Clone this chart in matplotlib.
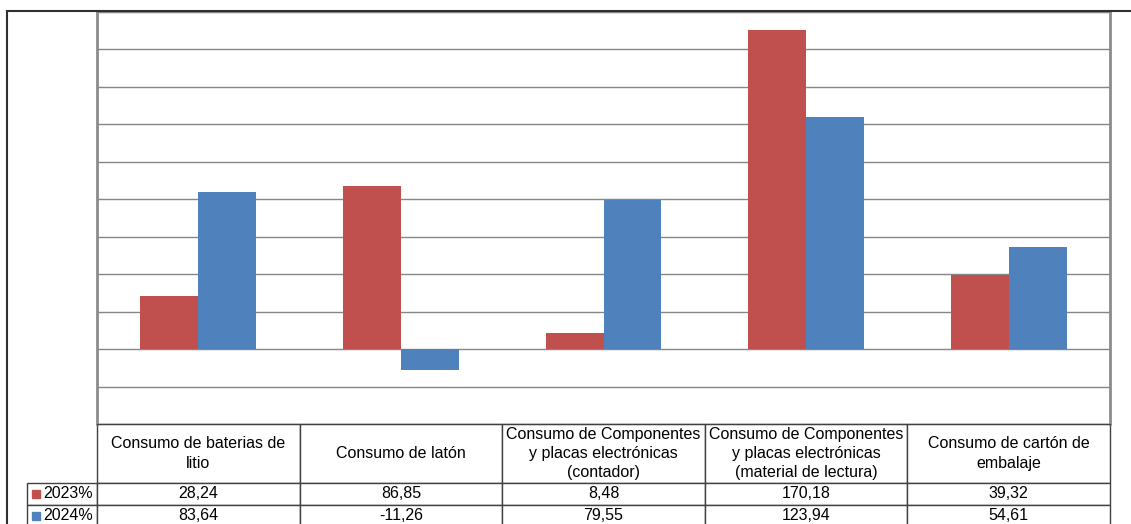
import numpy as np
import matplotlib.pyplot as plt
from matplotlib.patches import Rectangle

plt.rcParams['font.family'] = ['Liberation Sans', 'DejaVu Sans']

categories = ['Consumo de baterias de\nlitio',
              'Consumo de latón',
              'Consumo de Componentes\ny placas electrónicas\n(contador)',
              'Consumo de Componentes\ny placas electrónicas\n(material de lectura)',
              'Consumo de cartón de\nembalaje']
series_names = ['2023%', '2024%']
values_2023 = [28.24, 86.85, 8.48, 170.18, 39.32]
values_2024 = [83.64, -11.26, 79.55, 123.94, 54.61]
labels_2023 = ['28,24', '86,85', '8,48', '170,18', '39,32']
labels_2024 = ['83,64', '-11,26', '79,55', '123,94', '54,61']

red = '#C0504D'
blue = '#4F81BD'

W, H = 1131, 524
fig = plt.figure(figsize=(W / 100, H / 100), dpi=100)

# plot area in pixels
x0, x1, y0, y1 = 97, 1110, 12, 424
ax = fig.add_axes([x0 / W, 1 - y1 / H, (x1 - x0) / W, (y1 - y0) / H])

x = np.arange(len(categories))
bw = 0.286
ax.bar(x - bw / 2, values_2023, bw, color=red, zorder=3)
ax.bar(x + bw / 2, values_2024, bw, color=blue, zorder=3)

ax.set_xlim(-0.5, len(categories) - 0.5)
ax.set_ylim(-40, 180)
ax.set_yticks(np.arange(-40, 181, 20))
ax.grid(axis='y', color='#868686', linewidth=1, zorder=0)
ax.set_xticks([])
ax.tick_params(axis='y', length=0, labelleft=False)
for s in ['left', 'right']:
    ax.spines[s].set_color('#8c8c8c')
    ax.spines[s].set_linewidth(2)
ax.spines['top'].set_color('#868686')
ax.spines['bottom'].set_color('#404040')

# data table below the plot (bbox only covers the data columns)
pw = x1 - x0
row_w = 70 / pw
col_w = 1 / len(categories)
hdr_h, row_h = 59, 22
tot_h = (hdr_h + 2 * row_h) / (y1 - y0)
tbl = ax.table(cellText=[labels_2023, labels_2024],
               colLabels=categories,
               cellLoc='center', colLoc='center',
               colWidths=[col_w] * len(categories),
               bbox=[0, -tot_h, 1, tot_h])
for i, name in enumerate(series_names):
    tbl.add_cell(i + 1, -1, width=row_w, height=row_h, text=name, loc='right')
tbl.auto_set_font_size(False)
for (r, c), cell in tbl.get_celld().items():
    cell.set_edgecolor('#404040')
    cell.set_linewidth(1)
    cell.get_text().set_fontsize(11.5)
    if r == 0:
        cell.get_text().set_linespacing(1.35)
    cell.set_height(hdr_h if r == 0 else row_h)
    cell.PAD = 0.06 if c == -1 else 0.02

# colour keys in the row labels
for i, col in enumerate([red, blue]):
    yc = 483 + row_h * i + row_h / 2
    fig.patches.append(Rectangle((32 / W, 1 - (yc + 4) / H), 8 / W, 8 / H,
                                 transform=fig.transFigure, color=col, zorder=10))

# chart area border
fig.patches.append(Rectangle((7 / W, -0.1), 1.1, 1 - 11 / H + 0.1,
                             transform=fig.transFigure, fill=False,
                             edgecolor='#303030', linewidth=1.5))

fig.savefig('out.png', dpi=100)
